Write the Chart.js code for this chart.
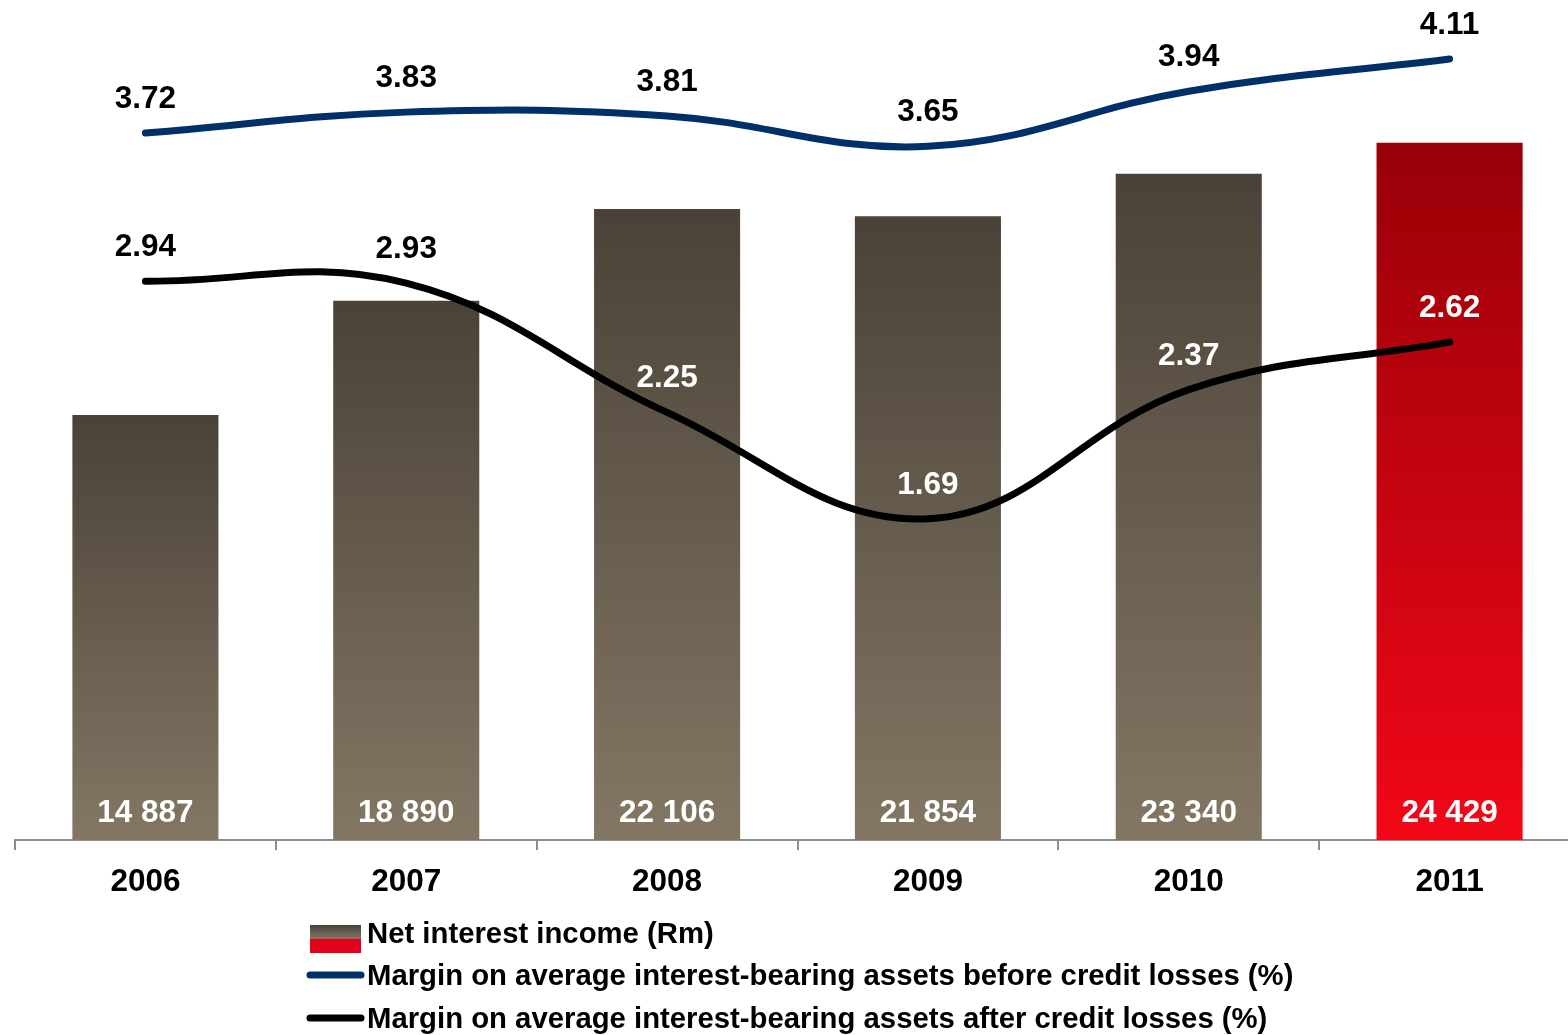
<!DOCTYPE html>
<html>
<head>
<meta charset="utf-8">
<script src="https://cdn.jsdelivr.net/npm/chart.js@4.4.1/dist/chart.umd.min.js"></script>
<style>
  html, body { margin: 0; padding: 0; background: #fff; overflow: hidden; }
  #wrap { width: 1582px; height: 1035px; }
</style>
</head>
<body>
<div id="wrap"><canvas id="nii" width="1582" height="1035"></canvas></div>
<script>
const years = ['2006', '2007', '2008', '2009', '2010', '2011'];
const netInterestIncome = [14887, 18890, 22106, 21854, 23340, 24429];
const marginBefore = [3.72, 3.83, 3.81, 3.65, 3.94, 4.11];
const marginAfter = [2.94, 2.93, 2.25, 1.69, 2.37, 2.62];

const FONT = '"Liberation Sans", Arial, Helvetica, sans-serif';
const BLUE = '#00306a';

function fmt(n) {
    return n.toLocaleString('en-US').replace(/,/g, ' ');
}

function grayGradient(ctx, top, bottom) {
    const g = ctx.createLinearGradient(0, top, 0, bottom);
    g.addColorStop(0, '#4a4238');
    g.addColorStop(1, '#837764');
    return g;
}

function redGradient(ctx, top, bottom) {
    const g = ctx.createLinearGradient(0, top, 0, bottom);
    g.addColorStop(0, '#980008');
    g.addColorStop(1, '#f20718');
    return g;
}

// each bar shades from dark at its top to light at the axis; the latest year is red
function barFill(context) {
    const chart = context.chart;
    if (!chart.chartArea || context.type !== 'data') return '#6a5f4e';
    const yScale = chart.scales.y;
    const top = yScale.getPixelForValue(context.parsed.y);
    const bottom = yScale.getPixelForValue(0);
    if (context.dataIndex === netInterestIncome.length - 1) {
        return redGradient(chart.ctx, top, bottom);
    }
    return grayGradient(chart.ctx, top, bottom);
}

const valueLabels = {
    id: 'valueLabels',
    afterDatasetsDraw(chart) {
        const ctx = chart.ctx;
        ctx.save();
        ctx.font = 'bold 31.5px ' + FONT;
        ctx.textAlign = 'center';
        ctx.textBaseline = 'alphabetic';
        const bars = chart.getDatasetMeta(0).data;
        bars.forEach((bar, i) => {
            ctx.fillStyle = '#fff';
            ctx.fillText(fmt(netInterestIncome[i]), bar.x, bar.base - 18);
        });
        [1, 2].forEach(di => {
            const values = chart.data.datasets[di].data;
            chart.getDatasetMeta(di).data.forEach((pt, i) => {
                const y = pt.y - 25;
                // white when the label sits inside a bar
                ctx.fillStyle = (y - 10 > bars[i].y) ? '#fff' : '#000';
                ctx.fillText(values[i].toFixed(2), pt.x, y);
            });
        });
        ctx.restore();
    }
};

const bottomLegend = {
    id: 'bottomLegend',
    afterDraw(chart) {
        const ctx = chart.ctx;
        const sets = chart.data.datasets;
        ctx.save();
        // bar swatch: grey over red
        ctx.fillStyle = grayGradient(ctx, 925, 939);
        ctx.fillRect(310, 925, 51, 14);
        ctx.fillStyle = '#e2001a';
        ctx.fillRect(310, 939, 51, 14);

        ctx.lineCap = 'round';
        ctx.lineWidth = 7;
        ctx.strokeStyle = BLUE;
        ctx.beginPath();
        ctx.moveTo(310, 975);
        ctx.lineTo(361, 975);
        ctx.stroke();
        ctx.strokeStyle = '#000';
        ctx.beginPath();
        ctx.moveTo(310, 1018);
        ctx.lineTo(361, 1018);
        ctx.stroke();

        ctx.fillStyle = '#000';
        ctx.font = 'bold 29.3px ' + FONT;
        ctx.textAlign = 'left';
        ctx.textBaseline = 'alphabetic';
        ctx.fillText(sets[0].label, 367, 943);
        ctx.fillText(sets[1].label, 367, 985);
        ctx.fillText(sets[2].label, 367, 1028);
        ctx.restore();
    }
};

new Chart(document.getElementById('nii'), {
    data: {
        labels: years,
        datasets: [
            {
                type: 'bar',
                label: 'Net interest income (Rm)',
                data: netInterestIncome,
                backgroundColor: barFill,
                borderWidth: 0,
                barPercentage: 0.56,
                categoryPercentage: 1,
                yAxisID: 'y',
                order: 2
            },
            {
                type: 'line',
                label: 'Margin on average interest-bearing assets before credit losses (%)',
                data: marginBefore,
                borderColor: BLUE,
                borderWidth: 7,
                borderCapStyle: 'round',
                pointRadius: 0,
                tension: 0.4,
                fill: false,
                yAxisID: 'y2',
                order: 1
            },
            {
                type: 'line',
                label: 'Margin on average interest-bearing assets after credit losses (%)',
                data: marginAfter,
                borderColor: '#000',
                borderWidth: 7,
                borderCapStyle: 'round',
                pointRadius: 0,
                tension: 0.4,
                fill: false,
                yAxisID: 'y2',
                order: 0
            }
        ]
    },
    options: {
        responsive: false,
        animation: false,
        layout: { padding: { left: 15, right: 2, top: 0, bottom: 135 } },
        plugins: {
            legend: { display: false },
            tooltip: { enabled: false }
        },
        scales: {
            x: {
                offset: true,
                grid: {
                    offset: true,
                    drawOnChartArea: false,
                    drawTicks: true,
                    tickLength: 10,
                    color: '#8c8c8c',
                    lineWidth: 2
                },
                border: { display: true, color: '#8c8c8c', width: 2 },
                ticks: {
                    color: '#000',
                    font: { family: FONT, size: 31.5, weight: 'bold' },
                    padding: 13,
                    maxRotation: 0
                },
                afterFit(scale) { scale.height = 60; }
            },
            y: { display: false, min: 0, max: 29430 },
            y2: { display: false, min: 0, max: 4.42, position: 'right' }
        }
    },
    plugins: [valueLabels, bottomLegend]
});
</script>
</body>
</html>
